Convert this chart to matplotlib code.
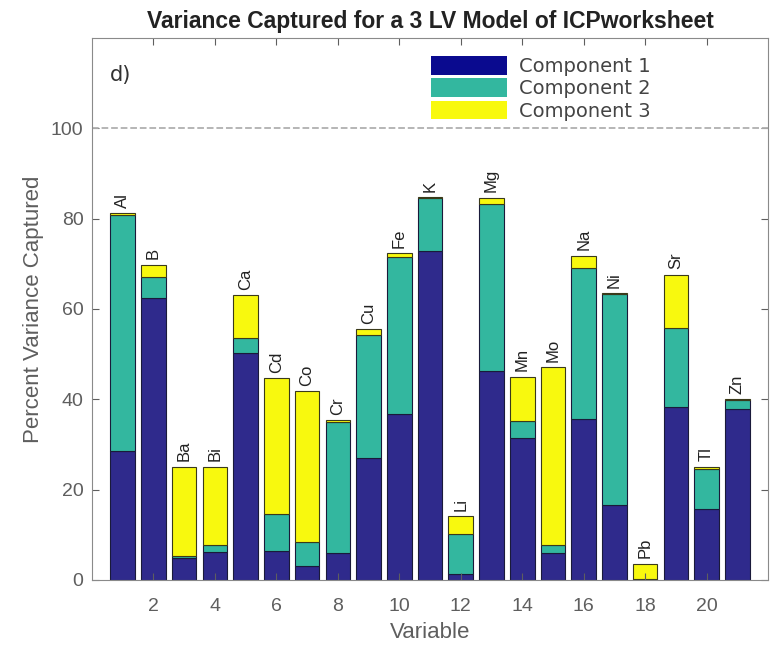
import matplotlib
matplotlib.use('Agg')
import matplotlib.pyplot as plt
from matplotlib.patches import Patch
import numpy as np

plt.rcParams['font.family'] = ['Liberation Sans', 'DejaVu Sans']

# variance captured (%) per component for each variable
elements = ['Al', 'B', 'Ba', 'Bi', 'Ca', 'Cd', 'Co', 'Cr', 'Cu', 'Fe', 'K',
            'Li', 'Mg', 'Mn', 'Mo', 'Na', 'Ni', 'Pb', 'Sr', 'Tl', 'Zn']
comp1 = [28.5, 62.5, 4.8, 6.2, 50.3, 6.5, 3.1, 6.0, 27.0, 36.8, 72.9,
         1.3, 46.3, 31.5, 6.0, 35.7, 16.5, 0.1, 38.3, 15.8, 37.8]
comp2 = [52.3, 4.5, 0.6, 1.5, 3.2, 8.2, 5.3, 29.0, 27.2, 34.6, 11.7,
         8.8, 37.0, 3.7, 1.7, 33.3, 46.7, 0.2, 17.4, 8.8, 2.0]
comp3 = [0.4, 2.8, 19.7, 17.4, 9.5, 30.0, 33.4, 0.3, 1.3, 0.9, 0.1,
         4.0, 1.3, 9.8, 39.4, 2.8, 0.3, 3.3, 11.9, 0.5, 0.2]
labels = ['Component 1', 'Component 2', 'Component 3']

c1_col = '#2f2a8c'
c2_col = '#33b79f'
c3_col = '#f8f90e'
grey = '#5e5e5e'

x = np.arange(1, len(elements) + 1)
c1 = np.array(comp1)
c2 = np.array(comp2)
c3 = np.array(comp3)

fig = plt.figure(figsize=(7.79, 6.47), dpi=100)
ax = fig.add_axes([0.118, 0.1036, 0.868, 0.838])

ax.bar(x, c1, 0.8, color=c1_col, edgecolor='#1a1a3a', linewidth=0.8)
ax.bar(x, c2, 0.8, bottom=c1, color=c2_col, edgecolor='#1a1a3a', linewidth=0.8)
ax.bar(x, c3, 0.8, bottom=c1 + c2, color=c3_col, edgecolor='#3a3a1a', linewidth=0.8)

tot = c1 + c2 + c3
for xi, t, name in zip(x, tot, elements):
    ax.text(xi, t + 1.2, name, rotation=90, ha='center', va='bottom',
            fontsize=12, color='#222222')

ax.axhline(100, color='#b0b0b0', linestyle='--', linewidth=1.3)

ax.set_xlim(0, 22)
ax.set_ylim(0, 120)
ax.set_xticks(np.arange(2, 21, 2))
ax.set_yticks(np.arange(0, 101, 20))
ax.tick_params(direction='in', top=True, right=True, labelsize=14,
               colors=grey, length=5)
ax.tick_params(axis='x', pad=13)
ax.tick_params(axis='y', pad=6)
for s in ax.spines.values():
    s.set_color('#8a8a8a')

ax.set_xlabel('Variable', fontsize=16, color=grey, labelpad=5)
ax.set_ylabel('Percent Variance Captured', fontsize=16, color=grey, labelpad=5)
ax.set_title('Variance Captured for a 3 LV Model of ICPworksheet',
             fontsize=16.5, fontweight='bold', color='#222222', pad=7)

ax.text(0.027, 0.932, 'd)', transform=ax.transAxes, fontsize=15,
        color='#333333', ha='left', va='center', family='DejaVu Sans')

handles = [Patch(facecolor='#0a0a8f', edgecolor='none'),
           Patch(facecolor=c2_col, edgecolor='none'),
           Patch(facecolor=c3_col, edgecolor='none')]
ax.legend(handles, labels, loc='upper left', bbox_to_anchor=(0.478, 0.995),
          frameon=True, facecolor='white', edgecolor='none', framealpha=1,
          prop={'family': 'DejaVu Sans', 'size': 14},
          handlelength=3.9, handleheight=1.1, labelspacing=0.12,
          handletextpad=0.65, borderpad=0.3, labelcolor='#444444')

fig.savefig('out.png', dpi=100)
